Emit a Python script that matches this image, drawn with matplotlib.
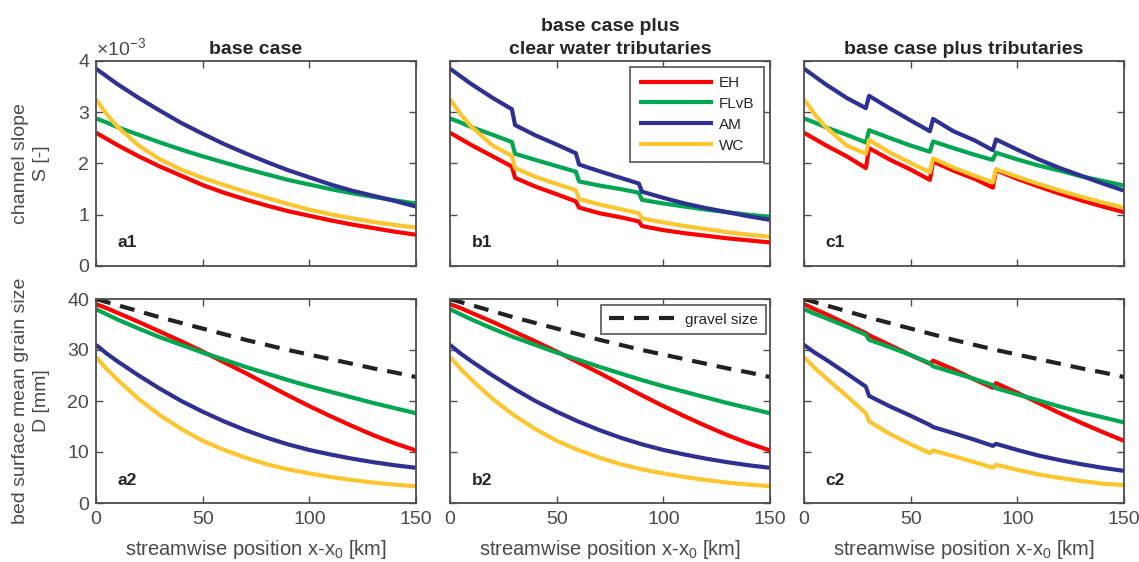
import matplotlib
matplotlib.use("Agg")
import matplotlib.pyplot as plt

plt.rcParams['font.family'] = ['Liberation Sans', 'DejaVu Sans']
plt.rcParams['mathtext.fontset'] = 'custom'
plt.rcParams['mathtext.rm'] = 'Liberation Sans'
plt.rcParams['mathtext.it'] = 'Liberation Sans:italic'

# ---------------- data ----------------
models = ["EH", "FLvB", "AM", "WC"]
colors = ["#ff0000", "#00a650", "#2e3192", "#fdc530"]

x_km = [0, 5, 10, 20, 30, 40, 50, 60, 70, 80, 90, 100, 110, 120, 130, 140, 150]
x_tr = [0, 5, 10, 20, 29, 30.5, 40, 50, 59, 60.5, 70, 80, 88.5, 90, 100, 110, 120, 130, 140, 150]

# channel slope, units of 1e-3
S_EH_a = [2.60, 2.48, 2.36, 2.14, 1.94, 1.76, 1.58, 1.43, 1.30, 1.18, 1.07, 0.98, 0.89, 0.81, 0.74, 0.67, 0.61]
S_FLvB_a = [2.88, 2.80, 2.71, 2.56, 2.41, 2.27, 2.14, 2.02, 1.90, 1.79, 1.68, 1.59, 1.50, 1.42, 1.35, 1.28, 1.22]
S_AM_a = [3.85, 3.70, 3.55, 3.28, 3.03, 2.79, 2.58, 2.38, 2.20, 2.03, 1.87, 1.73, 1.59, 1.47, 1.37, 1.27, 1.16]
S_WC_a = [3.25, 2.96, 2.72, 2.35, 2.08, 1.88, 1.72, 1.58, 1.45, 1.33, 1.21, 1.10, 1.01, 0.93, 0.86, 0.80, 0.75]

S_EH_b = [2.60, 2.48, 2.36, 2.14, 1.94, 1.72, 1.55, 1.40, 1.26, 1.14, 1.03, 0.95, 0.87, 0.78, 0.70, 0.64, 0.59, 0.54, 0.50, 0.46]
S_FLvB_b = [2.88, 2.80, 2.71, 2.56, 2.42, 2.19, 2.07, 1.95, 1.84, 1.65, 1.57, 1.50, 1.43, 1.29, 1.22, 1.16, 1.10, 1.05, 1.00, 0.96]
S_AM_b = [3.85, 3.70, 3.55, 3.28, 3.06, 2.75, 2.55, 2.37, 2.20, 1.98, 1.85, 1.72, 1.61, 1.45, 1.33, 1.22, 1.13, 1.05, 0.97, 0.90]
S_WC_b = [3.25, 2.96, 2.72, 2.35, 2.15, 1.91, 1.74, 1.60, 1.48, 1.31, 1.20, 1.11, 1.03, 0.93, 0.85, 0.78, 0.72, 0.66, 0.61, 0.57]

S_EH_c = [2.60, 2.48, 2.36, 2.14, 1.91, 2.30, 2.08, 1.88, 1.68, 2.04, 1.86, 1.70, 1.53, 1.87, 1.70, 1.55, 1.41, 1.28, 1.16, 1.05]
S_FLvB_c = [2.88, 2.80, 2.71, 2.56, 2.41, 2.65, 2.50, 2.35, 2.23, 2.43, 2.30, 2.17, 2.07, 2.21, 2.08, 1.96, 1.86, 1.75, 1.66, 1.57]
S_AM_c = [3.85, 3.70, 3.55, 3.28, 3.08, 3.32, 3.08, 2.84, 2.63, 2.87, 2.63, 2.45, 2.26, 2.47, 2.27, 2.08, 1.91, 1.76, 1.61, 1.47]
S_WC_c = [3.25, 2.96, 2.72, 2.35, 2.19, 2.46, 2.22, 2.01, 1.83, 2.10, 1.92, 1.76, 1.63, 1.89, 1.74, 1.60, 1.47, 1.35, 1.24, 1.14]

# bed surface mean grain size [mm]
gravel = [40.0, 39.4, 38.8, 37.6, 36.4, 35.3, 34.2, 33.1, 32.0, 31.0, 30.0, 29.1, 28.2, 27.3, 26.4, 25.6, 24.7]

D_EH_a = [39.0, 38.2, 37.3, 35.5, 33.6, 31.7, 29.7, 27.6, 25.5, 23.3, 21.1, 19.0, 17.0, 15.1, 13.3, 11.7, 10.3]
D_FLvB_a = [38.0, 37.0, 36.0, 34.2, 32.5, 31.0, 29.5, 28.1, 26.7, 25.4, 24.1, 22.9, 21.8, 20.7, 19.6, 18.6, 17.6]
D_AM_a = [31.0, 29.3, 27.8, 25.0, 22.4, 20.0, 17.9, 16.0, 14.3, 12.8, 11.5, 10.4, 9.5, 8.7, 8.0, 7.4, 6.9]
D_WC_a = [28.6, 26.3, 24.2, 20.4, 17.2, 14.5, 12.2, 10.4, 8.9, 7.6, 6.6, 5.8, 5.1, 4.5, 4.0, 3.6, 3.3]

D_EH_b = [39.0, 38.2, 37.3, 35.5, 33.6, 31.7, 29.7, 27.6, 25.5, 23.3, 21.1, 19.0, 17.0, 15.1, 13.3, 11.7, 10.3]
D_FLvB_b = [38.0, 37.0, 36.0, 34.2, 32.5, 31.0, 29.5, 28.1, 26.7, 25.4, 24.1, 22.9, 21.8, 20.7, 19.6, 18.6, 17.6]
D_AM_b = [31.0, 29.3, 27.8, 25.0, 22.4, 20.0, 17.9, 16.0, 14.3, 12.8, 11.5, 10.4, 9.5, 8.7, 8.0, 7.4, 6.9]
D_WC_b = [28.6, 26.3, 24.2, 20.4, 17.2, 14.5, 12.2, 10.4, 8.9, 7.6, 6.6, 5.8, 5.1, 4.5, 4.0, 3.6, 3.3]

D_EH_c = [39.0, 38.0, 37.1, 35.1, 33.3, 32.9, 31.0, 29.0, 27.3, 27.9, 26.2, 24.2, 22.6, 23.5, 21.6, 19.6, 17.6, 15.7, 13.9, 12.2]
D_FLvB_c = [38.0, 37.1, 36.3, 34.6, 33.0, 32.0, 30.6, 29.0, 27.4, 26.8, 25.6, 24.3, 23.1, 22.5, 21.3, 20.1, 18.9, 17.8, 16.8, 15.8]
D_AM_c = [31.0, 29.5, 28.2, 25.4, 22.8, 21.0, 19.0, 17.1, 15.3, 14.9, 13.7, 12.4, 11.2, 11.6, 10.4, 9.3, 8.4, 7.6, 6.9, 6.3]
D_WC_c = [28.6, 26.5, 24.6, 21.0, 17.6, 16.0, 13.6, 11.5, 9.8, 10.3, 9.2, 8.0, 6.9, 7.5, 6.5, 5.6, 4.9, 4.3, 3.8, 3.5]

titles = ["base case", "base case plus\nclear water tributaries", "base case plus tributaries"]
panel_top = ["a1", "b1", "c1"]
panel_bot = ["a2", "b2", "c2"]
x_ticks = [0, 50, 100, 150]
S_ticks = [0, 1, 2, 3, 4]
D_ticks = [0, 10, 20, 30, 40]

top_sets = [(x_km, [S_EH_a, S_FLvB_a, S_AM_a, S_WC_a]),
            (x_tr, [S_EH_b, S_FLvB_b, S_AM_b, S_WC_b]),
            (x_tr, [S_EH_c, S_FLvB_c, S_AM_c, S_WC_c])]
bot_sets = [(x_km, [D_EH_a, D_FLvB_a, D_AM_a, D_WC_a]),
            (x_km, [D_EH_b, D_FLvB_b, D_AM_b, D_WC_b]),
            (x_tr, [D_EH_c, D_FLvB_c, D_AM_c, D_WC_c])]

# ---------------- figure ----------------
W, H = 1139, 562
fig = plt.figure(figsize=(W / 100, H / 100), dpi=100)
txt = "#4a4a4a"
dark = "#262626"
spine_c = "#4d4d4d"
FS = 14

lefts = [96, 450, 804]
width = 320
top_row = (61, 266)
bot_row = (299, 503)

def add_ax(left, row):
    t, b = row
    return fig.add_axes([left / W, 1 - b / H, width / W, (b - t) / H])

def style(ax):
    for s in ax.spines.values():
        s.set_color(spine_c)
        s.set_linewidth(1.3)
    ax.tick_params(direction="in", top=True, right=True, length=5, width=1,
                   colors=spine_c, labelcolor=txt, labelsize=FS)
    ax.tick_params(axis="x", pad=6)
    ax.tick_params(axis="y", pad=5)

lw = 3.0
for i in range(3):
    ax = add_ax(lefts[i], top_row)
    xs, ys = top_sets[i]
    for m, y, c in zip(models, ys, colors):
        ax.plot(xs, y, color=c, lw=lw, label=m, solid_capstyle="butt")
    ax.set_xlim(0, 150)
    ax.set_ylim(0, 4)
    ax.set_xticks(x_ticks)
    ax.set_yticks(S_ticks)
    ax.set_xticklabels([])
    style(ax)
    if i > 0:
        ax.set_yticklabels([])
    ax.set_title(titles[i], fontsize=FS, fontweight="bold", color=dark, pad=5,
                 linespacing=1.45)
    ax.text(0.068, 0.115, panel_top[i], transform=ax.transAxes, fontsize=12.5,
            fontweight="bold", color=dark, ha="left", va="center")
    if i == 0:
        ax.text(0.0, 1.01, r"$\times10^{-3}$", transform=ax.transAxes,
                fontsize=FS, color=txt, ha="left", va="bottom")
    if i == 1:
        leg = ax.legend(loc="upper right", bbox_to_anchor=(0.98, 0.972),
                        borderaxespad=0, fontsize=11, handlelength=4.8,
                        labelspacing=0.45, handletextpad=0.4, fancybox=False,
                        framealpha=1, edgecolor="#555555", borderpad=0.6)
        leg.get_frame().set_linewidth(1.2)
        for t in leg.get_texts():
            t.set_color(dark)

for i in range(3):
    ax = add_ax(lefts[i], bot_row)
    xs, ys = bot_sets[i]
    ax.plot(x_km, gravel, color="#222222", lw=lw, dashes=(3.6, 2.4),
            label="gravel size")
    for m, y, c in zip(models, ys, colors):
        ax.plot(xs, y, color=c, lw=lw, solid_capstyle="butt")
    ax.set_xlim(0, 150)
    ax.set_ylim(0, 40)
    ax.set_xticks(x_ticks)
    ax.set_yticks(D_ticks)
    style(ax)
    if i > 0:
        ax.set_yticklabels([])
    ax.set_xlabel(r"streamwise position x-x$_0$ [km]", fontsize=14.5, color=txt,
                  labelpad=7)
    ax.text(0.068, 0.108, panel_bot[i], transform=ax.transAxes, fontsize=12.5,
            fontweight="bold", color=dark, ha="left", va="center")
    if i == 1:
        leg = ax.legend(loc="upper right", bbox_to_anchor=(0.987, 0.97),
                        borderaxespad=0, fontsize=11, handlelength=4.6,
                        handletextpad=0.4, fancybox=False, framealpha=1,
                        edgecolor="#555555", borderpad=0.5)
        leg.get_frame().set_linewidth(1.2)
        for t in leg.get_texts():
            t.set_color(dark)

fig.text(31 / W, 1 - 163.5 / H, "channel slope\nS [-]", rotation=90, ha="center",
         va="center", fontsize=FS, color=txt, linespacing=1.35, multialignment="center")
fig.text(31 / W, 1 - 401 / H, "bed surface mean grain size\nD [mm]", rotation=90,
         ha="center", va="center", fontsize=FS, color=txt, linespacing=1.35,
         multialignment="center")

fig.savefig("out.png", dpi=100)
